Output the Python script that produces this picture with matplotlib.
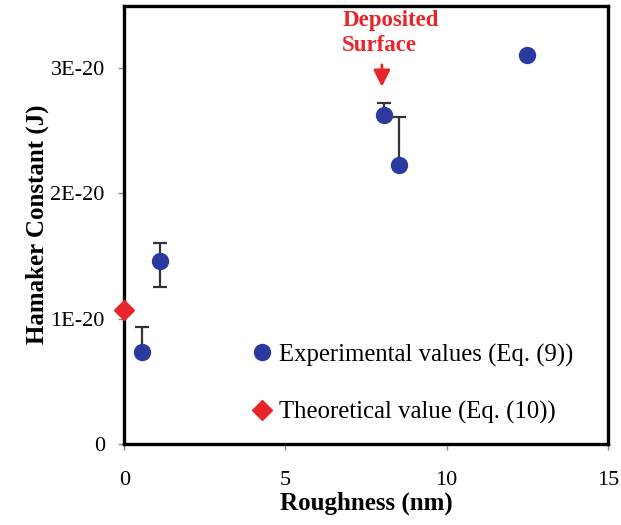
import matplotlib
matplotlib.use('Agg')
import matplotlib.pyplot as plt

plt.rcParams['font.family'] = ['Liberation Serif', 'DejaVu Serif']

# experimental values (Eq. (9))
rough = [0.55, 1.10, 8.05, 8.52, 12.48]
hamaker = [0.73e-20, 1.46e-20, 2.63e-20, 2.23e-20, 3.11e-20]
err_lo = [0.0, 0.21e-20, 0.0, 0.0, 0.0]
err_hi = [0.20e-20, 0.14e-20, 0.09e-20, 0.38e-20, 0.0]

# theoretical value (Eq. (10))
theo_x = [0.0]
theo_y = [1.07e-20]

xticks = [0, 5, 10, 15]
yticks = [0, 1e-20, 2e-20, 3e-20]
ylabels = ['0', '1E-20', '2E-20', '3E-20']

fig = plt.figure(figsize=(6.21, 5.25), dpi=100)
ax = fig.add_axes([0.2, 0.155, 0.779, 0.834])

ax.errorbar(rough, hamaker, yerr=[err_lo, err_hi], fmt='none', ecolor='#333333',
            elinewidth=1.6, capsize=5, capthick=1.6, zorder=2)
ax.plot(rough, hamaker, 'o', color='#2b3a9e', markersize=11.5, zorder=3,
        label='Experimental values (Eq. (9))')
ax.plot(theo_x, theo_y, 'D', color='#e8262a', markersize=10, zorder=4, clip_on=False,
        label='Theoretical value (Eq. (10))')

ax.set_xlim(0, 15)
ax.set_ylim(0, 3.5e-20)
ax.set_xticks(xticks)
ax.set_xticklabels([str(v) for v in xticks])
ax.set_yticks(yticks)
ax.set_yticklabels(ylabels)
ax.tick_params(axis='both', labelsize=16, length=4, width=1, color='#888888')
ax.tick_params(axis='x', pad=16)
ax.tick_params(axis='y', pad=10)
for s in ax.spines.values():
    s.set_linewidth(2.4)
    s.set_color('black')

ax.set_xlabel('Roughness (nm)', fontsize=18, fontweight='bold', labelpad=1)
ax.set_ylabel('Hamaker Constant (J)', fontsize=18, fontweight='bold', labelpad=1)

ax.text(6.76, 3.47e-20, 'Deposited\nSurface', color='#e8262a', fontsize=16.5,
        fontweight='bold', ha='left', va='top', linespacing=1.25)
ax.annotate('', xy=(7.99, 2.83e-20), xytext=(7.99, 3.05e-20),
            arrowprops=dict(arrowstyle='-|>', color='#e8262a', lw=2,
                            mutation_scale=25))

ax.legend(loc='lower right', bbox_to_anchor=(0.955, 0.016), frameon=False,
          fontsize=17.8, handletextpad=0.1, labelspacing=1.4, handlelength=1.2,
          borderpad=0)

fig.savefig('out.png', dpi=100)
